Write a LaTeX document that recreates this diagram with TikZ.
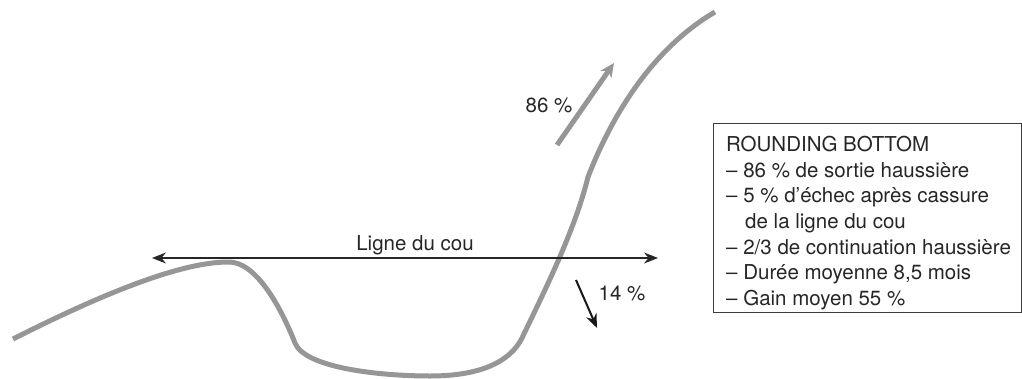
\documentclass[tikz,border=0pt]{standalone}
\usepackage{fontspec}
\setmainfont{TeX Gyre Heros}
\usetikzlibrary{arrows.meta}
\definecolor{curvegray}{RGB}{150,150,152}
\definecolor{boxline}{RGB}{60,60,60}
\tikzset{
  price/.style={draw=curvegray, line width=5pt, line cap=butt, line join=round},
  neck/.style={draw=black!85, line width=1.1pt, {Stealth[length=14pt,width=11pt]}-{Stealth[length=14pt,width=11pt]}},
  uparrow/.style={draw=curvegray, line width=5pt, -{Stealth[length=14pt,width=13pt]}},
  downarrow/.style={draw=black!90, line width=2pt, -{Stealth[length=14pt,width=11pt]}},
  lbl/.style={inner sep=0pt, font=\fontsize{20.5}{24}\selectfont, text=black!85},
  boxtxt/.style={inner sep=0pt, anchor=base west, font=\fontsize{20.5}{24}\selectfont, text=black!85},
}
\begin{document}
\begin{tikzpicture}[x=1pt,y=-1pt]
\useasboundingbox (0,0) rectangle (1022,378);
% price curve
\draw[price] (13,339) .. controls (100,295) and (180,262) .. (228,262)
  .. controls (255,261) and (280,305) .. (295,343)
  .. controls (305,368) and (380,376) .. (430,376)
  .. controls (480,376) and (510,362) .. (522,338)
  .. controls (545,290) and (575,230) .. (588,177)
  .. controls (610,120) and (650,50) .. (715,12);
% neckline
\coordinate (nl) at (152,258);
\coordinate (nr) at (658,258);
\draw[neck] (nl) -- (nr);
\node[lbl, anchor=base] (neckl) at (415,250) {Ligne du cou};
% 86 % arrow
\coordinate (ua) at (557,145);
\coordinate (ub) at (614,63);
\draw[uparrow] (ua) -- (ub);
\node[lbl] (p86) at (549,105) {86 \%};
% 14 % arrow
\coordinate (da) at (576,280);
\coordinate (db) at (597,328);
\draw[downarrow] (da) -- (db);
\node[lbl] (p14) at (622,293) {14 \%};
% box
\node[draw=boxline, line width=1.2pt, minimum width=308pt, minimum height=189pt, anchor=north west, inner sep=0pt] (box) at (713,123) {};
\node[boxtxt] (l1) at (726,151) {ROUNDING BOTTOM};
\node[boxtxt] (l2) at (726,177) {– 86 \% de sortie haussière};
\node[boxtxt] (l3) at (726,202) {– 5 \% d’échec après cassure};
\node[boxtxt] (l4) at (745,228) {de la ligne du cou};
\node[boxtxt] (l5) at (726,254) {– 2/3 de continuation haussière};
\node[boxtxt] (l6) at (726,279) {– Durée moyenne 8,5 mois};
\node[boxtxt] (l7) at (726,305) {– Gain moyen 55 \%};
\end{tikzpicture}
\end{document}
